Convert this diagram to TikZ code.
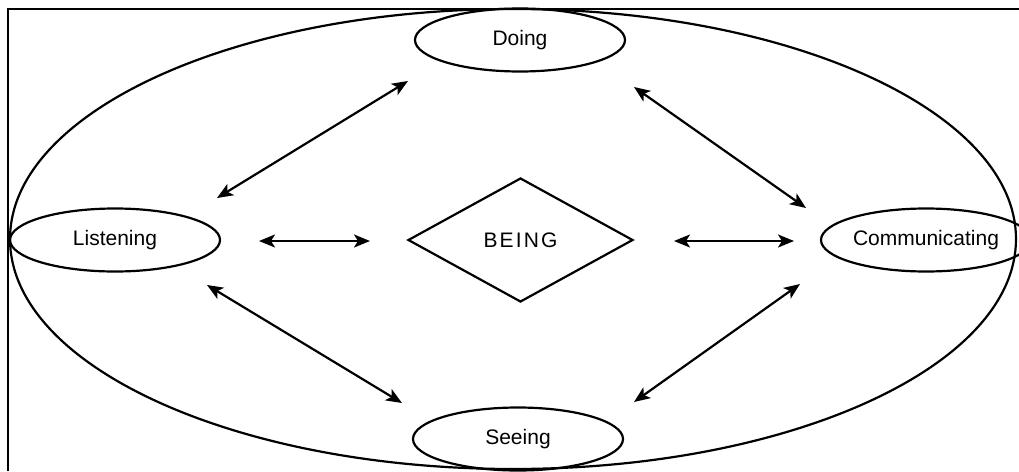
\documentclass[tikz,border=0pt]{standalone}
\usepackage{fontspec}
\setmainfont{Liberation Sans}
\usetikzlibrary{shapes.geometric,arrows.meta}
\begin{document}
\begin{tikzpicture}[x=1pt,y=-1pt,line width=2.2pt,
  oval/.style={draw,ellipse,minimum width=210pt,minimum height=63pt,inner sep=0pt,
    font=\fontsize{21}{25}\selectfont},
  outeroval/.style={draw,ellipse,minimum width=1006pt,minimum height=460pt,inner sep=0pt},
  core/.style={draw,diamond,minimum width=225pt,minimum height=124pt,inner sep=0pt,
    font=\fontsize{21}{25}\selectfont\addfontfeatures{LetterSpace=10}},
  biarrow/.style={{Stealth[length=16pt,width=13pt,inset=4pt]}-{Stealth[length=16pt,width=13pt,inset=4pt]},line width=2.2pt}]
\useasboundingbox (0,0) rectangle (1019,471);
% frame
\coordinate (frTR) at (1019,9);
\coordinate (frTL) at (8,9);
\coordinate (frBL) at (8,471);
\draw (frTR) -- (frTL) -- (frBL);
% big ellipse
\node[outeroval] (outer) at (513,239) {};
% nodes
\node[oval] (doing) at (520,40) {Doing};
\node[oval] (seeing) at (518,439) {Seeing};
\node[oval] (listening) at (115,240) {Listening};
\node[oval] (comm) at (926,240) {Communicating};
\node[core] (being) at (520.5,240) {BEING};
% arrow end points
\coordinate (ld1) at (217,198);
\coordinate (ld2) at (408,81);
\coordinate (dc1) at (634,87);
\coordinate (dc2) at (806,208);
\coordinate (ls1) at (207,285);
\coordinate (ls2) at (402,403);
\coordinate (sc1) at (634,402);
\coordinate (sc2) at (800,284);
\coordinate (lb1) at (259,241);
\coordinate (lb2) at (370,241);
\coordinate (bc1) at (674,241);
\coordinate (bc2) at (794,241);
% connectors
\draw[biarrow] (ld1) -- (ld2);
\draw[biarrow] (dc1) -- (dc2);
\draw[biarrow] (ls1) -- (ls2);
\draw[biarrow] (sc1) -- (sc2);
\draw[biarrow] (lb1) -- (lb2);
\draw[biarrow] (bc1) -- (bc2);
\end{tikzpicture}
\end{document}
